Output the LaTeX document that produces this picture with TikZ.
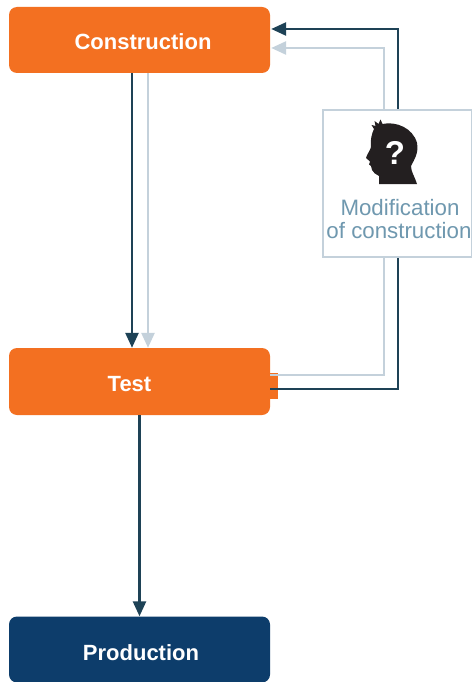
\documentclass[tikz,border=0pt]{standalone}
\usepackage{fontspec}
\setmainfont{Liberation Sans}
\usetikzlibrary{arrows.meta}
\definecolor{orng}{HTML}{F37021}
\definecolor{navy}{HTML}{0D3D6B}
\definecolor{darkln}{HTML}{1E4256}
\definecolor{lightln}{HTML}{C4D1DB}
\definecolor{txtblue}{HTML}{6F98AF}
\definecolor{headc}{HTML}{231F20}
\tikzset{
  box/.style={rectangle, rounded corners=8pt, minimum width=261pt, minimum height=66pt, inner sep=0pt, draw=none},
  boxtext/.style={anchor=base, text=white, font=\bfseries\fontsize{22}{24}\selectfont, inner sep=0pt},
  darkarrow/.style={draw=darkln, line width=2.6pt, -{Triangle[width=13pt,length=15pt]}},
  lightarrow/.style={draw=lightln, line width=2.6pt, -{Triangle[width=13pt,length=15pt]}},
  modtext/.style={anchor=base, text=txtblue, font=\fontsize{22.3}{23}\selectfont, inner sep=0pt}
}
\begin{document}
\begin{tikzpicture}[x=1pt,y=-1pt]
\useasboundingbox (0,0) rectangle (471,682);
\fill[white] (0,0) rectangle (471,682);
% boxes
\node[box, fill=orng] (cons) at (139.5,40) {};
\node[box, fill=orng, minimum height=67pt] (test) at (139.5,381.5) {};
\node[box, fill=navy] (prod) at (139.5,649.5) {};
\fill[orng] (269,373) rectangle (278,399);
\node[boxtext] (tcons) at (143,49.5) {Construction};
\node[boxtext] (ttest) at (129.5,391.5) {Test};
\node[boxtext] (tprod) at (141,660) {Production};
% forward arrows
\draw[darkarrow] ([xshift=-7.5pt]cons.south) -- ([xshift=-7.5pt]test.north);
\draw[lightarrow] ([xshift=8.5pt]cons.south) -- ([xshift=8.5pt]test.north);
\draw[darkarrow] (test.south) -- (prod.north);
% feedback arrows
\draw[lightarrow] ([yshift=6.5pt]test.east) -| (384,200) |- ([yshift=-8pt,xshift=1pt]cons.east);
\draw[darkarrow] ([yshift=-7.5pt]test.east) -| (398,200) |- ([yshift=11pt,xshift=1pt]cons.east);
% modification box
\node[rectangle, draw=lightln, line width=2.6pt, fill=white, minimum width=149pt, minimum height=147pt, inner sep=0pt] (mod) at (397.5,183.5) {};
% head icon
\fill[headc] (379,184) -- (379,176) .. controls (376,174) and (373,173) .. (372,170) -- (371,166) -- (369,164.5) -- (370,161.5) -- (366,158) .. controls (367,154) and (370,151) .. (371,147) .. controls (370,140) and (372,133) .. (374,129) -- (371.5,125) -- (375.5,126) -- (374.5,121) -- (378.5,124) -- (380.5,119.5) -- (382.5,124) .. controls (396,121) and (413,128) .. (417,143) .. controls (419,153) and (414,160) .. (411,166) .. controls (411,172) and (415,177) .. (417,184) -- cycle;
\node[text=white, font=\bfseries\fontsize{33}{33}\selectfont, inner sep=0pt] (qm) at (395,153) {?};
\node[modtext] (m1) at (400,215) {Modification};
\node[modtext] (m2) at (399,238) {of construction};
\end{tikzpicture}
\end{document}
